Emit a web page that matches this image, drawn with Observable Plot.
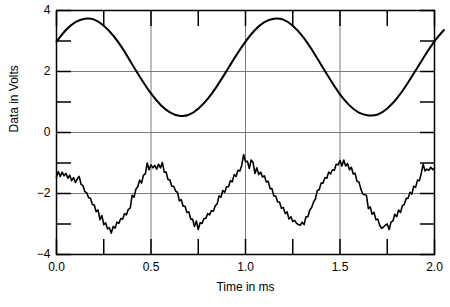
<!DOCTYPE html>
<html>
<head>
<meta charset="utf-8">
<script src="https://cdn.jsdelivr.net/npm/d3@7"></script>
<script src="https://cdn.jsdelivr.net/npm/@observablehq/plot@0.6"></script>
<style>
  html, body { margin: 0; padding: 0; background: #fff; }
  svg { display: block; }
</style>
</head>
<body>
<div id="chart"></div>
<script>
// Upper trace (sine-like), time in ms and volts
const topTime = [0, 0.05, 0.10, 0.15, 0.20, 0.25, 0.30, 0.35, 0.40, 0.45, 0.50, 0.55, 0.60, 0.65, 0.70, 0.75, 0.80, 0.85, 0.90, 0.95,
  1.00, 1.05, 1.10, 1.15, 1.20, 1.25, 1.30, 1.35, 1.40, 1.45, 1.50, 1.55, 1.60, 1.65, 1.70, 1.75, 1.80, 1.85, 1.90, 1.95, 2.00, 2.05];
const topVolts = [2.98, 3.36, 3.62, 3.73, 3.70, 3.50, 3.18, 2.75, 2.24, 1.74, 1.28, 0.91, 0.66, 0.55, 0.58, 0.78, 1.10, 1.53, 2.02, 2.52,
  2.98, 3.36, 3.62, 3.73, 3.70, 3.50, 3.17, 2.73, 2.22, 1.72, 1.25, 0.89, 0.65, 0.56, 0.59, 0.79, 1.11, 1.54, 2.03, 2.53, 2.99, 3.36];

// Lower trace (noisy), sampled every 0.01 ms from 0 to 2.0 ms
const bottomStep = 0.01;
const bottomVolts = [
  -1.45, -1.28, -1.44, -1.30, -1.42, -1.34, -1.50, -1.40, -1.58, -1.48,
  -1.64, -1.52, -1.44, -1.70, -1.74, -1.94, -1.98, -2.14, -2.16, -2.36,
  -2.38, -2.60, -2.54, -2.86, -2.72, -3.02, -2.96, -3.16, -3.12, -3.30,
  -3.08, -3.14, -2.94, -2.98, -2.82, -2.84, -2.66, -2.70, -2.52, -2.48,
  -2.06, -2.12, -1.86, -1.78, -1.56, -1.66, -1.40, -1.36, -1.00, -1.22,
  -1.06, -1.16, -1.08, -1.20, -1.04, -1.16, -0.98, -1.30, -1.30, -1.54,
  -1.56, -1.76, -1.76, -1.92, -1.96, -2.24, -2.20, -2.42, -2.42, -2.62,
  -2.60, -2.84, -2.84, -3.08, -2.90, -3.18, -2.96, -2.98, -2.82, -2.82,
  -2.66, -2.70, -2.56, -2.58, -2.40, -2.34, -2.08, -2.12, -1.90, -1.96,
  -1.78, -1.78, -1.58, -1.62, -1.38, -1.44, -1.24, -1.26, -1.08, -0.72,
  -0.96, -0.94, -1.18, -0.90, -0.98, -1.34, -1.16, -1.38, -1.30, -1.46,
  -1.42, -1.62, -1.60, -1.84, -1.84, -2.08, -2.08, -2.28, -2.28, -2.48,
  -2.46, -2.66, -2.60, -2.84, -2.76, -2.92, -2.88, -2.98, -3.02, -3.04,
  -2.94, -3.02, -2.76, -2.76, -2.54, -2.46, -2.28, -2.18, -1.90, -1.88,
  -1.66, -1.66, -1.48, -1.50, -1.30, -1.36, -1.22, -1.24, -1.04, -1.06,
  -0.92, -1.10, -0.90, -1.10, -1.02, -1.22, -1.14, -1.36, -1.34, -1.60,
  -1.62, -1.84, -2.02, -2.04, -2.06, -2.50, -2.44, -2.68, -2.62, -2.86,
  -2.84, -3.04, -3.14, -3.10, -3.04, -3.00, -3.18, -2.94, -2.90, -2.68,
  -2.76, -2.54, -2.62, -2.40, -2.36, -2.16, -2.16, -1.96, -2.02, -1.76,
  -1.80, -1.56, -1.58, -1.34, -1.04, -1.26, -1.20, -1.24, -1.14, -1.22,
  -1.16
];

const xTicks = [0, 0.25, 0.5, 0.75, 1, 1.25, 1.5, 1.75, 2];
const xLabels = [0, 0.5, 1.0, 1.5, 2.0];
const yTicks = [-4, -3, -2, -1, 0, 1, 2, 3, 4];
const yLabels = [-4, -2, 0, 2, 4];
const xGrid = [0.5, 1.0, 1.5];
const yGrid = [-2, 0, 2];

const topData = topTime.map((t, i) => ({t, v: topVolts[i]}));
const bottomData = bottomVolts.map((v, i) => ({t: i * bottomStep, v}));

const chart = Plot.plot({
  width: 450,
  height: 307,
  marginLeft: 56,
  marginRight: 16,
  marginTop: 10,
  marginBottom: 53,
  style: {fontFamily: "'Liberation Sans', Arial, Helvetica, sans-serif", fontSize: "12px", background: "#fff", color: "#000"},
  x: {domain: [0, 2]},
  y: {domain: [-4, 4]},
  marks: [
    Plot.gridX(xGrid, {stroke: "#7a7a7a", strokeOpacity: 1, strokeWidth: 1}),
    Plot.gridY(yGrid, {stroke: "#7a7a7a", strokeOpacity: 1, strokeWidth: 1}),
    Plot.axisX(xTicks, {anchor: "bottom", tickSize: -15, tickFormat: () => "", strokeWidth: 1.5, label: null}),
    Plot.axisX(xTicks, {anchor: "top", tickSize: -15, tickFormat: () => "", strokeWidth: 1.5, label: null}),
    Plot.axisY(yTicks, {anchor: "left", tickSize: -15, tickFormat: () => "", strokeWidth: 1.5, label: null}),
    Plot.axisY(yTicks, {anchor: "right", tickSize: -15, tickFormat: () => "", strokeWidth: 1.5, label: null}),
    Plot.axisX(xLabels, {anchor: "bottom", tickSize: 0, tickPadding: 8, tickFormat: d3.format(".1f"), label: null, fill: "#000", fontSize: 12}),
    Plot.axisY(yLabels, {anchor: "left", tickSize: 0, tickPadding: 6, tickFormat: d3.format("d"), label: null, fill: "#000", fontSize: 12}),
    Plot.frame({stroke: "#000", strokeWidth: 1.5}),
    Plot.line(topData, {x: "t", y: "v", stroke: "#000", strokeWidth: 2, curve: "natural", clip: false}),
    Plot.line(bottomData, {x: "t", y: "v", stroke: "#000", strokeWidth: 1.6}),
    Plot.text(["Time in ms"], {frameAnchor: "bottom", dy: 33, lineAnchor: "middle", fontSize: 12, fill: "#000"}),
    Plot.text(["Data in Volts"], {frameAnchor: "left", dx: -42, rotate: -90, fontSize: 12, fill: "#000"})
  ]
});
document.getElementById("chart").appendChild(chart);
</script>
</body>
</html>
